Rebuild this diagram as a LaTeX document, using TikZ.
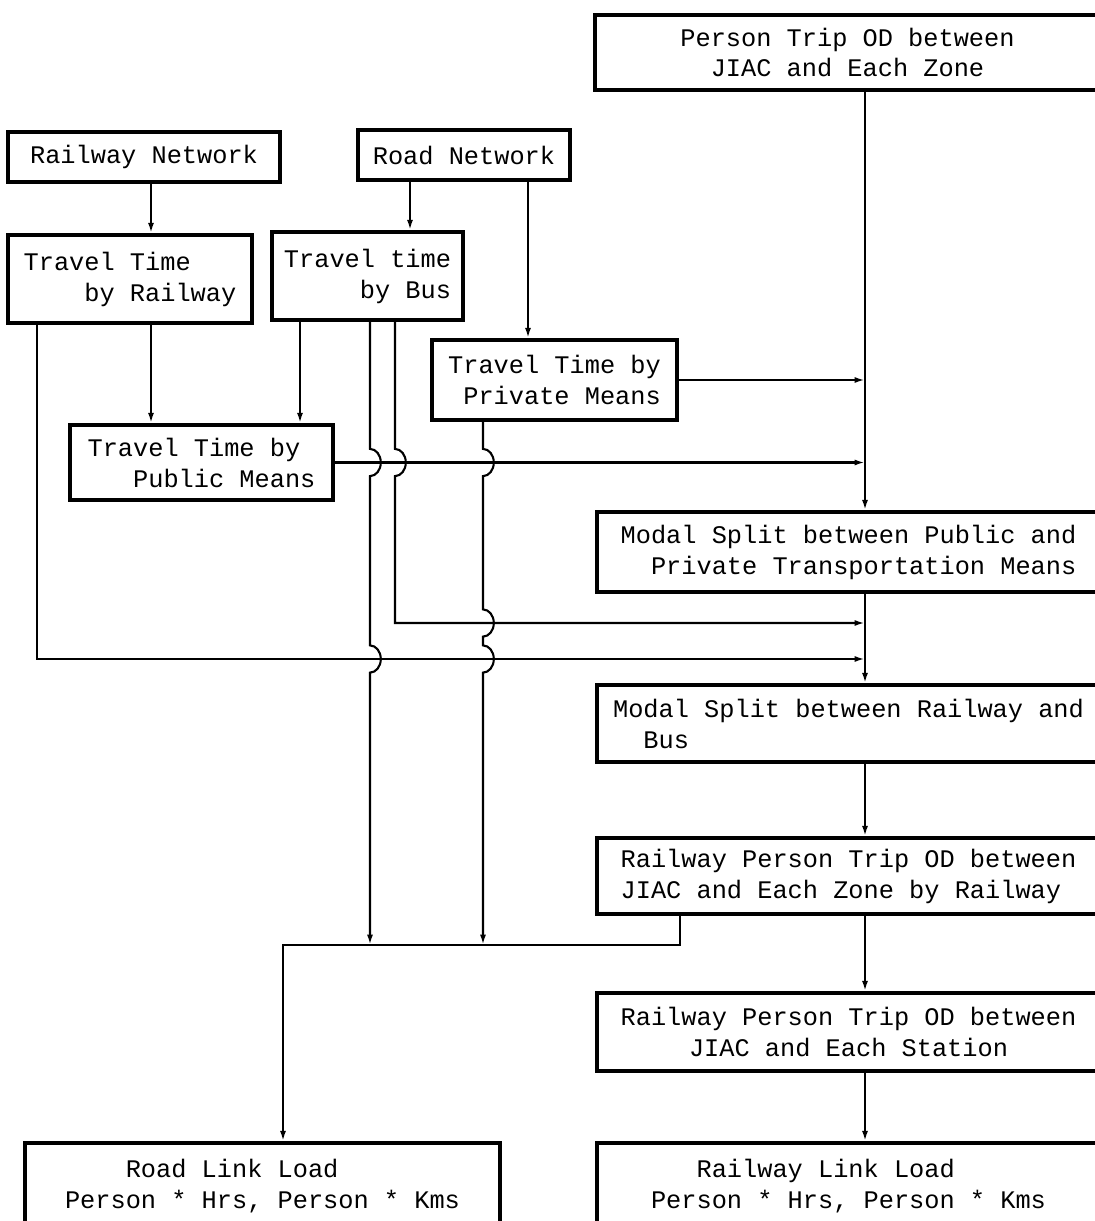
\documentclass[tikz,border=0pt]{standalone}
\usepackage{fontspec}
\setmonofont{Liberation Mono}
\usetikzlibrary{arrows.meta,calc}
\tikzset{
  flowbox/.style={draw,line width=2.4pt,inner ysep=2pt,align=left,
    font=\ttfamily\fontsize{18}{22}\selectfont},
  flowline/.style={line width=1.5pt}
}
\newcommand{\crosshop}{arc[start angle=90,end angle=-90,x radius=0.27cm,y radius=0.34cm]}

\begin{document}
\begin{tikzpicture}[x=0.025cm,y=-0.025cm,>={Latex[length=0.26cm,width=0.15cm]}]
  \useasboundingbox (0,0) rectangle (1095,1221);
  \node[flowbox,align=center,minimum width=12.625cm,minimum height=1.875cm] (ptod) at (847.5,52.5)
    {Person Trip OD between\\JIAC and Each Zone};
  \node[flowbox,minimum width=6.8cm,minimum height=1.25cm] (railnet) at (144,157) {Railway Network};
  \node[flowbox,minimum width=5.3cm,minimum height=1.25cm] (roadnet) at (464,155) {Road Network};
  \node[flowbox,minimum width=6.1cm,minimum height=2.2cm] (ttrail) at (130,279)
    {Travel Time\\\phantom{0000}by Railway};
  \node[flowbox,align=right,minimum width=4.775cm,minimum height=2.2cm] (ttbus) at (367.5,276)
    {Travel time\\by Bus};
  \node[flowbox,align=right,minimum width=6.125cm,minimum height=2cm] (ttpriv) at (554.5,380)
    {Travel Time by\\Private Means};
  \node[flowbox,minimum width=6.575cm,minimum height=1.875cm] (ttpub) at (201.5,462.5)
    {Travel Time by\\\phantom{000}Public Means};
  \node[flowbox,minimum width=12.575cm,minimum height=2cm] (msplit1) at (848.5,552)
    {Modal Split between Public and\\\phantom{00}Private Transportation Means};
  \node[flowbox,minimum width=12.575cm,minimum height=1.925cm] (msplit2) at (848.5,723.5)
    {Modal Split between Railway and\\\phantom{00}Bus\phantom{00000000000000000000000000}};
  \node[flowbox,minimum width=12.575cm,minimum height=1.9cm] (rodzone) at (848.5,876)
    {Railway Person Trip OD between\\JIAC and Each Zone by Railway};
  \node[flowbox,align=center,minimum width=12.575cm,minimum height=1.95cm] (rodstn) at (848.5,1032)
    {Railway Person Trip OD between\\JIAC and Each Station};
  \node[flowbox,minimum width=11.875cm,minimum height=2.175cm] (roadload) at (262.5,1186.5)
    {\phantom{0000}Road Link Load\\Person * Hrs, Person * Kms};
  \node[flowbox,minimum width=12.575cm,minimum height=2.175cm] (railload) at (848.5,1186.5)
    {\phantom{000}Railway Link Load\\Person * Hrs, Person * Kms};

  \coordinate (railside) at (37,0);
  \coordinate (railmid) at (151,0);
  \coordinate (roadin) at (283,0);
  \coordinate (buspub) at (300,0);
  \coordinate (busroad) at (370,0);
  \coordinate (busrail) at (395,0);
  \coordinate (roadbus) at (410,0);
  \coordinate (privroad) at (483,0);
  \coordinate (roadpriv) at (528,0);
  \coordinate (mainlane) at (865,0);
  \coordinate (busjoin) at (865,623);
  \coordinate (railjoin) at (865,659);
  \coordinate (merge) at (680,945);

  \draw[flowline,->] (railnet.south -| railmid) -- (ttrail.north -| railmid);
  \draw[flowline,->] (roadnet.south -| roadbus) -- (ttbus.north -| roadbus);
  \draw[flowline,->] (roadnet.south -| roadpriv) -- (ttpriv.north -| roadpriv);
  \draw[flowline,->] (ttrail.south -| railmid) -- (ttpub.north -| railmid);
  \draw[flowline,->] (ttbus.south -| buspub) -- (ttpub.north -| buspub);
  \draw[flowline,->] (ptod.south -| mainlane) -- (msplit1.north -| mainlane);
  \draw[flowline,->] (ttpriv.east) -- (ttpriv.east -| mainlane);
  \draw[flowline,->] (ttpub.east) -- (ttpub.east -| mainlane);
  \draw[flowline,->] (ttrail.south -| railside) -- (railside |- railjoin) -- (railjoin);
  \draw[flowline,->] (ttbus.south -| busrail) -- ($(busrail |- ttpub.east)+(0,-13.6)$) \crosshop
    -- (busrail |- busjoin) -- (busjoin);
  \draw[flowline,->] (ttbus.south -| busroad) -- ($(busroad |- ttpub.east)+(0,-13.6)$) \crosshop
    -- ($(busroad |- railjoin)+(0,-13.6)$) \crosshop -- (busroad |- merge);
  \draw[flowline,->] (ttpriv.south -| privroad) -- ($(privroad |- ttpub.east)+(0,-13.6)$) \crosshop
    -- ($(privroad |- busjoin)+(0,-13.6)$) \crosshop
    -- ($(privroad |- railjoin)+(0,-13.6)$) \crosshop -- (privroad |- merge);
  \draw[flowline,->] (msplit1.south -| mainlane) -- (msplit2.north -| mainlane);
  \draw[flowline,->] (msplit2.south -| mainlane) -- (rodzone.north -| mainlane);
  \draw[flowline,->] (rodzone.south -| mainlane) -- (rodstn.north -| mainlane);
  \draw[flowline,->] (rodstn.south -| mainlane) -- (railload.north -| mainlane);
  \draw[flowline,->] (rodzone.south -| merge) -- (merge) -- (merge -| roadin)
    -- (roadload.north -| roadin);
\end{tikzpicture}
\end{document}
